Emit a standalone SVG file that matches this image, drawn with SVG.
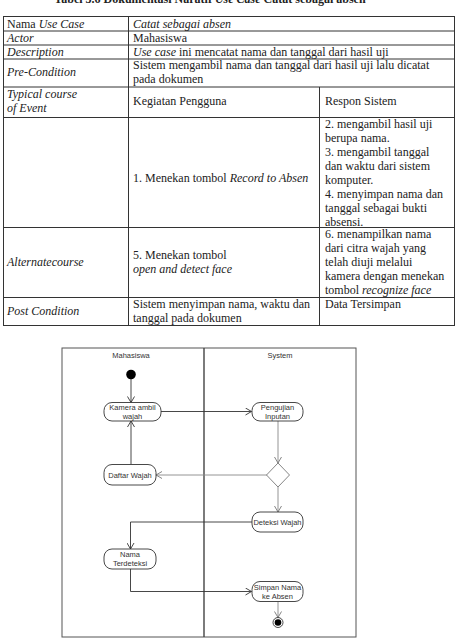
<svg xmlns="http://www.w3.org/2000/svg" width="462" height="640" viewBox="0 0 462 640">
<style>
.t{font-family:"Liberation Serif","Times New Roman",serif;font-size:12px;fill:#222}
.i{font-style:italic}
.tl{stroke:#333;stroke-width:1;fill:none}
.d{font-family:"Liberation Sans",Arial,sans-serif;font-size:7.5px;fill:#333;text-anchor:middle}
.box{fill:#fff;stroke:#333;stroke-width:0.9}
.c{stroke:#333;stroke-width:0.9;fill:none}
.cg{stroke:#888;stroke-width:0.9;fill:none}
.fr{stroke:#555;stroke-width:1;fill:none}
</style>
<defs>
<marker id="ah" markerWidth="8" markerHeight="8" refX="7" refY="4" orient="auto" markerUnits="userSpaceOnUse">
<path d="M1,0.5 L7,4 L1,7.5" fill="none" stroke="#333" stroke-width="0.9"/>
</marker>
<marker id="ahg" markerWidth="8" markerHeight="8" refX="7" refY="4" orient="auto" markerUnits="userSpaceOnUse">
<path d="M1,0.5 L7,4 L1,7.5" fill="none" stroke="#777" stroke-width="0.9"/>
</marker>
</defs>
<rect width="462" height="640" fill="#fff"/>
<text class="t" x="210" y="3" text-anchor="middle" font-weight="bold">Tabel 3.6 Dokumentasi Naratif <tspan class="i">Use Case</tspan> Catat sebagai absen</text>

<g id="table">
<rect class="tl" x="3.5" y="16.5" width="451" height="309"/>
<line class="tl" x1="128.5" y1="16.5" x2="128.5" y2="325.5"/>
<line class="tl" x1="319.5" y1="87" x2="319.5" y2="325.5"/>
<line class="tl" x1="3.5" y1="31" x2="454.5" y2="31"/>
<line class="tl" x1="3.5" y1="45" x2="454.5" y2="45"/>
<line class="tl" x1="3.5" y1="59" x2="454.5" y2="59"/>
<line class="tl" x1="3.5" y1="87" x2="454.5" y2="87"/>
<line class="tl" x1="3.5" y1="117.5" x2="454.5" y2="117.5"/>
<line class="tl" x1="3.5" y1="227.5" x2="454.5" y2="227.5"/>
<line class="tl" x1="3.5" y1="297.5" x2="454.5" y2="297.5"/>

<text class="t" x="7" y="27.5">Nama <tspan class="i">Use Case</tspan></text>
<text class="t i" x="133" y="27.5">Catat sebagai absen</text>
<text class="t i" x="7" y="41.5">Actor</text>
<text class="t" x="133" y="41.5">Mahasiswa</text>
<text class="t i" x="7" y="55.5">Description</text>
<text class="t" x="133" y="55.5"><tspan class="i">Use case</tspan> ini mencatat nama dan tanggal dari hasil uji</text>
<text class="t i" x="7" y="76">Pre-Condition</text>
<text class="t" x="133" y="69">Sistem mengambil nama dan tanggal dari hasil uji lalu dicatat</text>
<text class="t" x="133" y="83">pada dokumen</text>
<text class="t i" x="7" y="98">Typical course</text>
<text class="t i" x="7" y="111.5">of Event</text>
<text class="t" x="133" y="104.5">Kegiatan Pengguna</text>
<text class="t" x="325" y="104.5">Respon Sistem</text>

<text class="t" x="133" y="182">1. Menekan tombol <tspan class="i">Record to Absen</tspan></text>
<text class="t" x="325" y="128">2. mengambil hasil uji</text>
<text class="t" x="325" y="142">berupa nama.</text>
<text class="t" x="325" y="156">3. mengambil tanggal</text>
<text class="t" x="325" y="170">dan waktu dari sistem</text>
<text class="t" x="325" y="184">komputer.</text>
<text class="t" x="325" y="198">4. menyimpan nama dan</text>
<text class="t" x="325" y="212">tanggal sebagai bukti</text>
<text class="t" x="325" y="225.5">absensi.</text>

<text class="t i" x="7" y="266">Alternatecourse</text>
<text class="t" x="133" y="259">5. Menekan tombol</text>
<text class="t i" x="133" y="273">open and detect face</text>
<text class="t" x="325" y="238">6. menampilkan nama</text>
<text class="t" x="325" y="252">dari citra wajah yang</text>
<text class="t" x="325" y="266">telah diuji melalui</text>
<text class="t" x="325" y="280">kamera dengan menekan</text>
<text class="t" x="325" y="294">tombol <tspan class="i">recognize face</tspan></text>

<text class="t i" x="7" y="315">Post Condition</text>
<text class="t" x="133" y="308">Sistem menyimpan nama, waktu dan</text>
<text class="t" x="133" y="322">tanggal pada dokumen</text>
<text class="t" x="325" y="308">Data Tersimpan</text>
</g>

<g id="frame">
<rect class="fr" x="62" y="348" width="294" height="289"/>
<line x1="204" y1="348" x2="204" y2="637" stroke="#444" stroke-width="1.4"/>
<text class="d" x="131" y="358" fill="#555">Mahasiswa</text>
<text class="d" x="280" y="358" fill="#555">System</text>
</g>

<g id="connectors">
<line class="c" x1="131" y1="379" x2="131" y2="402.5" marker-end="url(#ah)"/>
<line class="c" x1="161" y1="411.5" x2="251.5" y2="411.5" marker-end="url(#ah)"/>
<line class="cg" x1="278" y1="421" x2="278" y2="463" marker-end="url(#ahg)"/>
<line class="cg" x1="267" y1="475" x2="156" y2="475" marker-end="url(#ahg)"/>
<line class="c" x1="131" y1="464" x2="131" y2="421" marker-end="url(#ah)"/>
<line class="cg" x1="278" y1="487" x2="278" y2="512" marker-end="url(#ahg)"/>
<polyline class="c" points="252,522 130.5,522 130.5,549" marker-end="url(#ah)"/>
<polyline class="c" points="130.5,569 130.5,591.5 251.5,591.5" marker-end="url(#ah)"/>
<line class="cg" x1="278" y1="602" x2="278" y2="617.5" marker-end="url(#ahg)"/>
</g>

<g id="start"><circle cx="131" cy="374.5" r="4.8" fill="#000"/></g>
<g id="kamera">
<rect class="box" x="104" y="402.5" width="57" height="18.5" rx="8"/>
<text class="d" x="132.5" y="410">Kamera ambil</text>
<text class="d" x="132.5" y="418.5">wajah</text>
</g>
<g id="pengujian">
<rect class="box" x="252" y="402.5" width="51" height="18.5" rx="8"/>
<text class="d" x="277.5" y="410">Pengujian</text>
<text class="d" x="277.5" y="418.5">Inputan</text>
</g>
<g id="decision">
<polygon points="278,463 289.5,475 278,487 266.5,475" fill="#fff" stroke="#777" stroke-width="0.9"/>
</g>
<g id="daftar">
<rect class="box" x="104" y="464.5" width="52" height="20.5" rx="8"/>
<text class="d" x="130" y="477.5">Daftar Wajah</text>
</g>
<g id="deteksi">
<rect class="box" x="252" y="512" width="51" height="20" rx="8"/>
<text class="d" x="277.5" y="525">Deteksi Wajah</text>
</g>
<g id="nama">
<rect class="box" x="104" y="549" width="52" height="20" rx="8"/>
<text class="d" x="130" y="557">Nama</text>
<text class="d" x="130" y="566">Terdeteksi</text>
</g>
<g id="simpan">
<rect class="box" x="252" y="581.5" width="51" height="20" rx="8"/>
<text class="d" x="277.5" y="589.5">Simpan Nama</text>
<text class="d" x="277.5" y="598.5">ke Absen</text>
</g>
<g id="end">
<circle cx="278" cy="622.5" r="5" fill="#fff" stroke="#333" stroke-width="0.9"/>
<circle cx="278" cy="622.5" r="3.3" fill="#000"/>
</g>
</svg>
